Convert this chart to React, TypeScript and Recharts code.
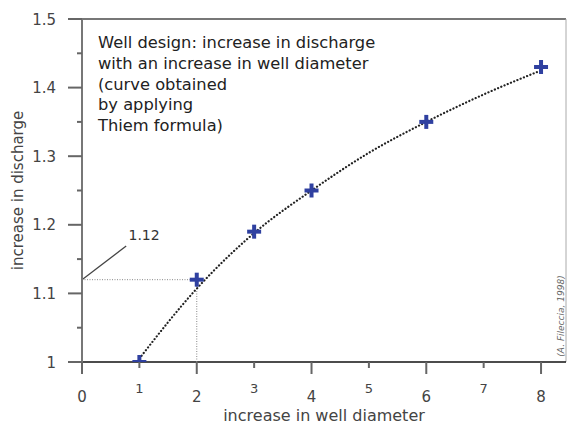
import { ComposedChart, Line, Scatter, XAxis, YAxis, ReferenceLine, Label } from "recharts";

const diameter = [1, 2, 3, 4, 6, 8];
const discharge = [1.0, 1.12, 1.19, 1.25, 1.35, 1.43];
const curveDiameter = [1, 2, 3, 4, 5, 6, 7, 8];
const curveDischarge = [1.005, 1.107, 1.188, 1.25, 1.305, 1.35, 1.39, 1.425];
const xTicks = [0, 1, 2, 3, 4, 5, 6, 7, 8];
const yTicks = [1, 1.05, 1.1, 1.15, 1.2, 1.25, 1.3, 1.35, 1.4, 1.45, 1.5];
const titleLines = [
  "Well design: increase in discharge",
  "with an increase in well diameter",
  "(curve obtained",
  "by applying",
  "Thiem formula)",
];
const marked = { x: 2, y: 1.12, label: "1.12" };
const calloutEnd = { x: 0.77, y: 1.169 };

const FONT = "'DejaVu Sans', sans-serif";
const points = diameter.map((x, i) => ({ x, y: discharge[i] }));
const curve = curveDiameter.map((x, i) => ({ x, y: curveDischarge[i] }));

function XTick({ x, y, payload }: any) {
  const major = payload.value % 2 === 0;
  return (
    <g>
      <line x1={x} x2={x} y1={y} y2={y + (major ? 12 : 6)} stroke="#666" strokeWidth={2} />
      <text x={x} y={y + (major ? 40 : 31)} textAnchor="middle" fontSize={major ? 15 : 13} fill="#444" fontFamily={FONT}>
        {payload.value}
      </text>
    </g>
  );
}

function YTick({ x, y, payload }: any) {
  const major = Math.round(payload.value * 100) % 10 === 0;
  return (
    <g>
      <line x1={x - (major ? 14 : 5)} x2={x} y1={y} y2={y} stroke="#666" strokeWidth={2} />
      {major && (
        <text x={x - 26} y={y + 5.5} textAnchor="end" fontSize={15} fill="#444" fontFamily={FONT}>
          {Number(payload.value.toFixed(1)).toString()}
        </text>
      )}
    </g>
  );
}

function Plus({ cx, cy }: any) {
  return (
    <g stroke="#2f40a0" strokeWidth={4}>
      <line x1={cx - 7} x2={cx + 7} y1={cy} y2={cy} />
      <line x1={cx} x2={cx} y1={cy - 7} y2={cy + 7} />
    </g>
  );
}

export default function App() {
  return (
    <div style={{ position: "absolute", left: 0, top: 0, width: 569, height: 426, background: "#fff", fontFamily: FONT }}>
      <ComposedChart width={569} height={426} margin={{ top: 19, right: 3, bottom: 0, left: 0 }}>
        <XAxis
          type="number"
          dataKey="x"
          domain={[0, 8.435]}
          ticks={xTicks}
          tick={<XTick />}
          tickSize={0}
          tickMargin={0}
          axisLine={false}
          height={64}
          allowDataOverflow
        >
          <Label value="increase in well diameter" position="insideBottom" offset={5} fontSize={16} fill="#444" fontFamily={FONT} />
        </XAxis>
        <YAxis
          type="number"
          dataKey="y"
          domain={[1, 1.5]}
          ticks={yTicks}
          tick={<YTick />}
          tickSize={0}
          tickMargin={0}
          axisLine={{ stroke: "#777", strokeWidth: 2 }}
          width={82}
          allowDataOverflow
        >
          <Label value="increase in discharge" angle={-90} position="center" dx={-23} fontSize={15} fill="#444" fontFamily={FONT} />
        </YAxis>
        <ReferenceLine y={1.5} stroke="#777" strokeWidth={2} />
        <ReferenceLine x={8.435} stroke="#aaa" strokeWidth={1} />
        <ReferenceLine y={1} stroke="#111" strokeWidth={1.5} />
        <ReferenceLine segment={[{ x: 0, y: marked.y }, { x: marked.x, y: marked.y }]} stroke="#888" strokeDasharray="1 1.5" />
        <ReferenceLine segment={[{ x: marked.x, y: 1 }, { x: marked.x, y: marked.y }]} stroke="#888" strokeDasharray="1 1.5" />
        <ReferenceLine segment={[{ x: 0, y: marked.y }, calloutEnd]} stroke="#444" strokeWidth={1.3}>
          <Label value={marked.label} position="end" dx={40} dy={-28} fontSize={14} fill="#333" fontFamily={FONT} />
        </ReferenceLine>
        <Line
          data={curve}
          dataKey="y"
          type="monotone"
          stroke="#222"
          strokeWidth={2.2}
          strokeDasharray="0.1 3.4"
          strokeLinecap="round"
          dot={false}
          isAnimationActive={false}
        />
        <Scatter data={points} dataKey="y" shape={<Plus />} isAnimationActive={false} />
      </ComposedChart>
      <div style={{ position: "absolute", left: 98, top: 33, fontSize: 16.3, lineHeight: "20.8px", color: "#222", whiteSpace: "pre" }}>
        {titleLines.join("\n")}
      </div>
      <div
        style={{
          position: "absolute",
          left: 561,
          top: 316,
          transform: "translate(-50%, -50%) rotate(-90deg)",
          fontSize: 9,
          fontStyle: "italic",
          color: "#666",
          whiteSpace: "nowrap",
        }}
      >
        (A. Fileccia, 1998)
      </div>
    </div>
  );
}
